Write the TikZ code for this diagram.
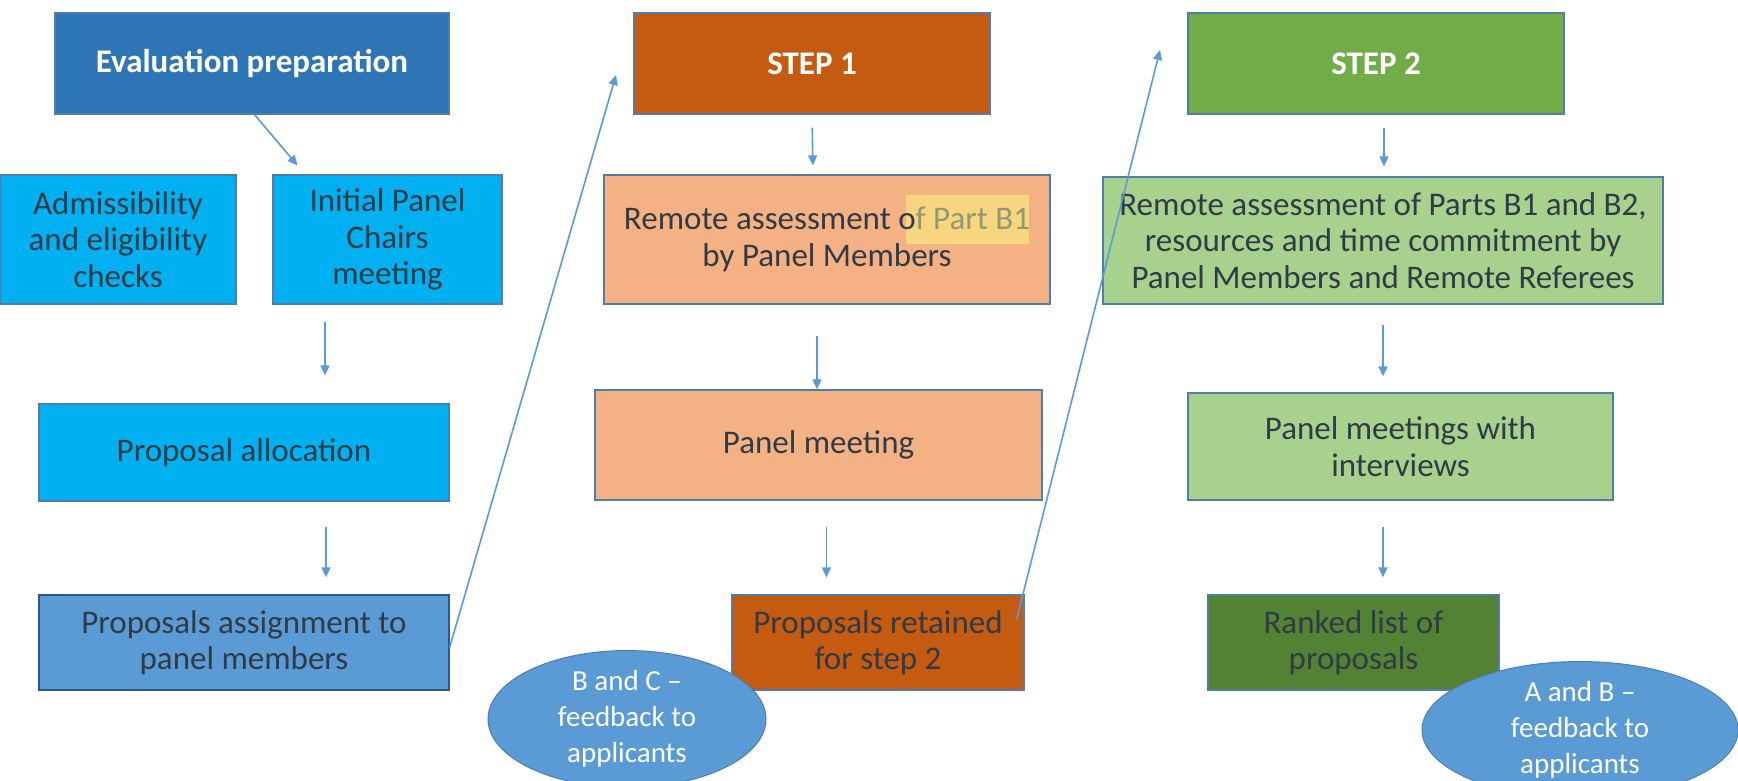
\documentclass[tikz,border=0pt]{standalone}
\usepackage{fontspec}
\setmainfont{Carlito}
\usetikzlibrary{arrows.meta,shapes.geometric}
\definecolor{evalblue}{HTML}{2E75B6}
\definecolor{cyanb}{HTML}{00B0F0}
\definecolor{midblue}{HTML}{5B9BD5}
\definecolor{navy}{HTML}{2F5597}
\definecolor{orgdark}{HTML}{C55A11}
\definecolor{orglight}{HTML}{F4B183}
\definecolor{grnmid}{HTML}{70AD47}
\definecolor{grnlight}{HTML}{A9D18E}
\definecolor{grndark}{HTML}{548235}
\definecolor{bord}{HTML}{4F7EAD}
\definecolor{txt}{HTML}{303B46}
\definecolor{hlyel}{HTML}{F8D67F}
\definecolor{hltxt}{HTML}{8F9A72}
\definecolor{arrc}{HTML}{5B9BD5}
\begin{document}
\begin{tikzpicture}[x=1pt,y=-1pt,
  box/.style={draw=bord, line width=1.2pt, inner sep=0pt, align=center, text=txt,
    font=\fontsize{33}{36.5}\selectfont},
  head/.style={box, text=white, font=\fontsize{33}{36.5}\selectfont\bfseries},
  oval/.style={ellipse, draw=bord, line width=1pt, fill=midblue, inner sep=0pt, align=center,
    text=white, font=\fontsize{29}{36}\selectfont},
  arr/.style={draw=arrc, line width=1.6pt, -{Triangle[length=10pt,width=9pt]}}
]
\useasboundingbox (0,0) rectangle (1738,781);
\fill[white] (0,0) rectangle (1738,781);

% column 1
\node[head, fill=evalblue, minimum width=394, minimum height=101] (eval) at (252,63.5) {Evaluation preparation};
\node[box, fill=cyanb, minimum width=236, minimum height=129] (adm) at (118,239.5) {Admissibility\\and eligibility\\checks};
\node[box, fill=cyanb, minimum width=229, minimum height=129] (ipc) at (387.5,239.5) {Initial Panel\\Chairs\\meeting};
\node[box, fill=cyanb, minimum width=410, minimum height=97] (alloc) at (244,452.5) {Proposal allocation};
\node[box, draw=navy, fill=midblue, minimum width=410, minimum height=95] (assign) at (244,642.5) {Proposals assignment to\\panel members};

% column 2
\node[head, fill=orgdark, minimum width=356, minimum height=101] (step1) at (812,63.5) {STEP 1};
\node[box, fill=orglight, minimum width=446, minimum height=129,
  path picture={\fill[hlyel] ([xshift=79pt,yshift=44.5pt]path picture bounding box.center) rectangle ++(123pt,-49pt);}]
  (rb1) at (827,239.5) {Remote assessment o\textcolor{hltxt}{f Part B1}\\by Panel Members};
\node[box, fill=orglight, minimum width=447, minimum height=110] (pm) at (818.5,445) {Panel meeting};
\node[box, fill=orgdark, minimum width=292, minimum height=95] (ret) at (878,642.5) {Proposals retained\\for step 2};
\node[oval, minimum width=278, minimum height=130] (bc) at (627,719) {B and C --\\feedback to\\applicants};

% column 3
\node[head, fill=grnmid, minimum width=376, minimum height=101] (step2) at (1376,63.5) {STEP 2};
\node[box, fill=grnlight, minimum width=560, minimum height=127] (rb2) at (1383,240.5) {Remote assessment of Parts B1 and B2,\\resources and time commitment by\\Panel Members and Remote Referees};
\node[box, fill=grnlight, minimum width=425, minimum height=107] (pmi) at (1400.5,446.5) {Panel meetings with\\interviews};
\node[box, fill=grndark, minimum width=291, minimum height=95] (rank) at (1353.5,642.5) {Ranked list of\\proposals};
\node[oval, minimum width=316, minimum height=120] (ab) at (1580,730) {A and B --\\feedback to\\applicants};

% connectors
\draw[arr] ([xshift=2.5pt]eval.south) -- ([xshift=-90pt,yshift=9pt]ipc.north);
\draw[arr, shorten <=17pt, shorten >=28pt] ([xshift=-62.5pt]ipc.south) -- ([xshift=81pt]alloc.north);
\draw[arr, shorten <=25pt, shorten >=17pt] ([xshift=82pt]alloc.south) -- ([xshift=82pt]assign.north);
\coordinate (t1) at (616,75);
\draw[arr] ([yshift=-5pt]assign.east) -- (t1);

\draw[arr, shorten <=13pt, shorten >=9pt] (step1.south) -- ([xshift=-14pt]rb1.north);
\draw[arr, shorten <=31pt, shorten >=0pt] ([xshift=-10pt]rb1.south) -- ([xshift=-1.5pt]pm.north);
\draw[arr, shorten <=26pt, shorten >=17pt] ([xshift=8pt]pm.south) -- ([xshift=-51.5pt]ret.north);
\coordinate (t2) at (1160,50);
\draw[arr] ([xshift=-8pt,yshift=-25pt]ret.north east) -- (t2);

\draw[arr, shorten <=13pt, shorten >=10pt] ([xshift=8pt]step2.south) -- ([xshift=1pt]rb2.north);
\draw[arr, shorten <=20pt, shorten >=16pt] (rb2.south) -- ([xshift=-17.5pt]pmi.north);
\draw[arr, shorten <=26pt, shorten >=17pt] ([xshift=-17.5pt]pmi.south) -- ([xshift=29.5pt]rank.north);
\end{tikzpicture}
\end{document}
